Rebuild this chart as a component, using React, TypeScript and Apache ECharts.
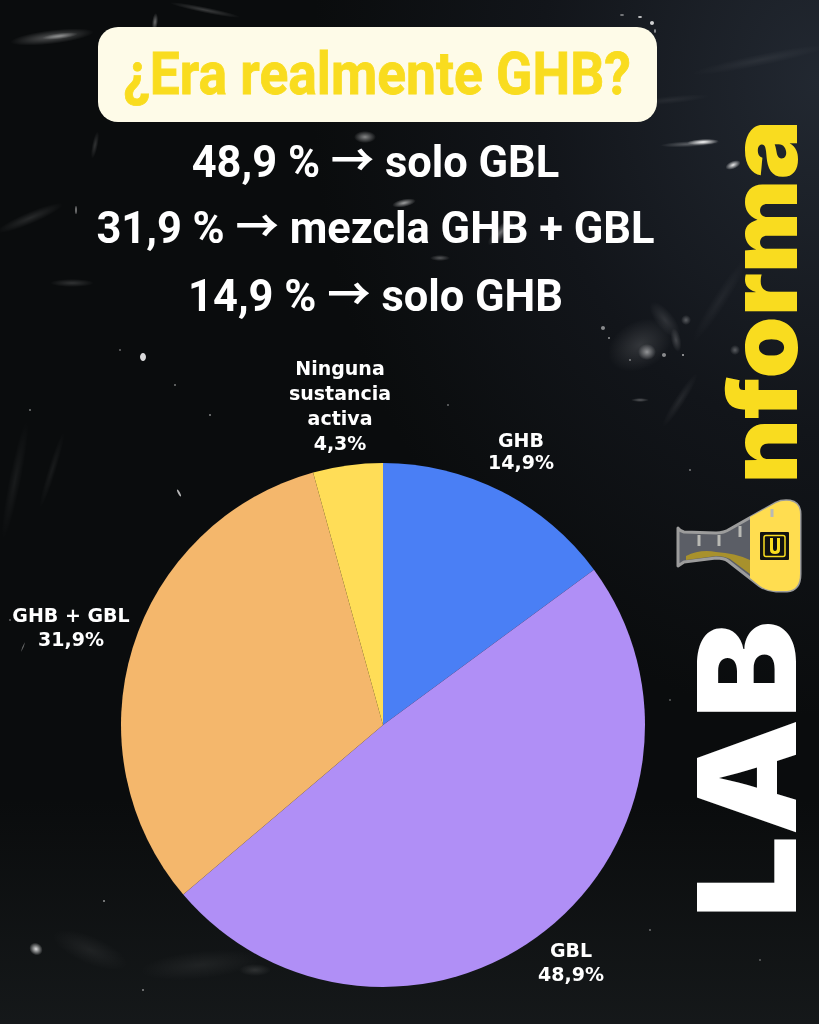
import React, { useEffect, useRef } from "react";
import * as echarts from "echarts";

const categories = ["GHB", "GBL", "GHB + GBL", "Ninguna\nsustancia\nactiva"];
const values = [14.9, 48.9, 31.9, 4.3];
const valueLabels = ["14,9%", "48,9%", "31,9%", "4,3%"];
const colors = ["#4a7ff5", "#b08ff6", "#f4b76c", "#ffdd57"];
const labelAnchors = [[521, 451], [571, 962], [71, 627], [340, 405]];
const labelLineHeights = [22, 24, 24, 25];
const headline = "¿Era realmente GHB?";
const statLines = ["48,9 % → solo GBL", "31,9 % → mezcla GHB + GBL", "14,9 % → solo GHB"];
const statY = [162, 228, 296];

const flaskBody = "M678 528 Q680 531 684 532 L716 533 Q724 533 730 529 L776 503 Q782 500 790 501 Q800 503 800 514 L800 574 Q800 590 787 591 L776 591 Q768 591 760 586 L728 561 Q724 558 716 558 L684 562 L678 566 Z";
const flaskYellow = "M750 517 L776 503 Q782 500 790 501 Q800 503 800 514 L800 574 Q800 590 787 591 L776 591 Q768 591 760 586 L750 578 Z";
const flaskLiquid = "M686 556 Q700 549 716 552 Q735 553 750 560 L750 574 L730 559 Q724 556 716 556 L686 560 Z";
const logoU = "M770 538 L773 538 L773 548 Q773 551 775 551 Q777 551 777 548 L777 538 L780 538 L780 550 Q780 554 775 554 Q770 554 770 550 Z";

echarts.graphic.registerShape("flaskBody", echarts.graphic.extendPath(flaskBody, {}));
echarts.graphic.registerShape("flaskYellow", echarts.graphic.extendPath(flaskYellow, {}));
echarts.graphic.registerShape("flaskLiquid", echarts.graphic.extendPath(flaskLiquid, {}));
echarts.graphic.registerShape("logoU", echarts.graphic.extendPath(logoU, {}));

const flaskTicks: number[][] = [[699, 535, 699, 546], [719, 535, 719, 546], [740, 526, 740, 537], [772, 509, 772, 517]];

// chalk marks: x, y, rx, ry, rotation, opacity
const smudges: number[][] = [
  [52, 37, 42, 7, 0.12, 0.3], [60, 36, 18, 3, 0.12, 0.4], [155, 22, 3, 9, -0.1, 0.4], [205, 10, 36, 3, -0.2, 0.2],
  [640, 17, 2, 1, 0, 0.7], [652, 23, 2, 2, 0, 0.8], [655, 31, 1, 2, 0, 0.5], [622, 15, 2, 1, 0, 0.4],
  [703, 142, 16, 3, 0.05, 1], [690, 144, 30, 3, 0.05, 0.3], [733, 165, 8, 4, 0.4, 0.9],
  [365, 137, 11, 6, 0, 0.5], [404, 203, 12, 4, 0.2, 0.6], [501, 232, 18, 6, 0.8, 0.4], [440, 258, 10, 3, 0, 0.3],
  [143, 357, 3, 4, 0, 0.85], [179, 493, 1, 4, 0.5, 0.7], [36, 949, 7, 6, -0.6, 0.85], [23, 647, 1, 6, -0.4, 0.45],
  [76, 210, 1, 4, 0, 0.4], [30, 218, 36, 6, 0.4, 0.12], [72, 283, 22, 4, 0, 0.16],
  [95, 145, 3, 14, -0.2, 0.16], [15, 480, 6, 60, -0.2, 0.06], [52, 470, 4, 40, -0.3, 0.06],
  [640, 345, 34, 24, 0.5, 0.14], [647, 352, 9, 8, 0, 0.5], [665, 320, 22, 9, -0.9, 0.12], [680, 400, 32, 5, 1.0, 0.08],
  [640, 400, 9, 2, 0, 0.3], [603, 328, 2, 2, 0, 0.5], [609, 338, 1, 1, 0, 0.5], [664, 355, 2, 2, 0, 0.5], [630, 360, 1, 1, 0, 0.4],
  [676, 340, 5, 12, 0.2, 0.2], [686, 320, 5, 5, 0, 0.3], [683, 355, 1, 1, 0, 0.6],
  [90, 950, 40, 14, -0.4, 0.06], [200, 965, 60, 14, 0.1, 0.06], [255, 970, 16, 6, 0, 0.12], [104, 901, 1, 1, 0, 0.5], [143, 990, 1, 1, 0, 0.45],
  [720, 300, 50, 7, 1.0, 0.05], [760, 60, 70, 6, 0.2, 0.06], [735, 350, 5, 5, 0, 0.3], [670, 100, 40, 4, 0.1, 0.06],
  [470, 48, 1, 1, 0, 0.5], [30, 410, 1, 1, 0, 0.4], [210, 415, 1, 1, 0, 0.45], [120, 350, 1, 1, 0, 0.35],
  [175, 385, 1, 1, 0, 0.4], [10, 620, 1, 1, 0, 0.35], [650, 930, 1, 1, 0, 0.35], [760, 960, 1, 1, 0, 0.3],
  [690, 470, 1, 1, 0, 0.4], [670, 700, 1, 1, 0, 0.3], [540, 310, 1, 1, 0, 0.35], [448, 405, 1, 1, 0, 0.35],
];

const softFill = (alpha: number) => ({
  type: "radial", x: 0.5, y: 0.5, r: 0.5,
  colorStops: [
    { offset: 0, color: `rgba(255,255,255,${alpha})` },
    { offset: 1, color: "rgba(255,255,255,0)" },
  ],
});

export default function App() {
  const ref = useRef<HTMLDivElement>(null);
  useEffect(() => {
    const chart = echarts.init(ref.current!, null, { renderer: "svg" });
    chart.setOption({
      animation: false,
      backgroundColor: {
        type: "radial", x: 1, y: 0.08, r: 0.62,
        colorStops: [{ offset: 0, color: "#222831" }, { offset: 0.55, color: "#12151a" }, { offset: 1, color: "#0a0c0d" }],
      },
      graphic: {
        elements: [
          { type: "rect", x: 0, y: 800, z: 0, silent: true, shape: { width: 819, height: 224 },
            style: { fill: { type: "linear", x: 0, y: 0, x2: 0, y2: 1, colorStops: [{ offset: 0, color: "rgba(30,34,36,0)" }, { offset: 1, color: "rgba(30,34,36,0.55)" }] } } },
          ...smudges.map((s) => ({
            type: "ellipse", silent: true, x: s[0], y: s[1], rotation: s[4],
            shape: { cx: 0, cy: 0, rx: s[2], ry: s[3] },
            style: s[2] > 3 || s[3] > 4
              ? { fill: softFill(s[5]) }
              : { fill: "#ffffff", opacity: s[5] },
            z: 0,
          })),
          { type: "rect", x: 98, y: 27, shape: { width: 559, height: 95, r: 20 }, style: { fill: "#fefbe8" }, z: 1 },
          { type: "text", x: 377, y: 73, scaleX: 0.89, z: 2,
            style: { text: headline, fill: "#f9dc1f", stroke: "#f9dc1f", lineWidth: 0.8, align: "center", verticalAlign: "middle", fontFamily: "Roboto", fontWeight: 700, fontSize: 60 } },
          ...statLines.map((t, i) => ({
            type: "text", x: 375.5, y: statY[i], scaleX: 0.965, z: 2,
            style: { text: t, fill: "#ffffff", align: "center", verticalAlign: "middle", fontFamily: "Roboto, 'Noto Sans CJK SC'", fontWeight: 700, fontSize: 45 },
          })),
          { type: "text", x: 814.5, y: 918.5, rotation: Math.PI / 2, scaleX: 1.08, z: 2,
            style: { text: "LAB", fill: "#ffffff", align: "left", verticalAlign: "bottom", fontFamily: "Inter", fontWeight: 900, fontSize: 136 } },
          { type: "text", x: 810, y: 483.5, rotation: Math.PI / 2, scaleX: 1.047, z: 2,
            style: { text: "nforma", fill: "#f9dc1f", align: "left", verticalAlign: "bottom", fontFamily: "Inter", fontWeight: 900, fontSize: 95 } },
          { type: "flaskBody", z: 2, style: { fill: "#5b5e66", stroke: "#9c9c9c", lineWidth: 3, lineJoin: "round" } },
          { type: "flaskYellow", z: 3, style: { fill: "#ffdd50" } },
          { type: "flaskLiquid", z: 3, style: { fill: "#a8912c" } },
          ...flaskTicks.map((t) => ({
            type: "line", z: 3, shape: { x1: t[0], y1: t[1], x2: t[2], y2: t[3] },
            style: { stroke: "#b9b9b4", lineWidth: 3 },
          })),
          { type: "rect", z: 4, x: 760, y: 532, shape: { width: 29, height: 28, r: 1 }, style: { fill: "#111111" } },
          { type: "rect", z: 5, x: 764, y: 535.5, shape: { width: 21, height: 21, r: 2 }, style: { fill: "#111111", stroke: "#f9dc1f", lineWidth: 1.5 } },
          { type: "logoU", z: 6, style: { fill: "#f9dc1f" } },
        ],
      },
      series: [
        {
          type: "pie",
          center: [383, 725],
          radius: [0, 262],
          startAngle: 90,
          clockwise: true,
          data: categories.map((name, i) => ({
            name, value: values[i], itemStyle: { color: colors[i] },
            label: { lineHeight: labelLineHeights[i] },
          })),
          label: {
            show: true,
            position: "outside",
            color: "#ffffff",
            fontFamily: "'DejaVu Sans'",
            fontWeight: 700,
            fontSize: 19,
            overflow: "none",
            align: "center",
            verticalAlign: "middle",
            formatter: (p: any) => `${p.name}\n${valueLabels[p.dataIndex]}`,
          },
          labelLine: { show: false },
          labelLayout: (p: any) => ({
            x: labelAnchors[p.dataIndex][0],
            y: labelAnchors[p.dataIndex][1],
            align: "center",
            verticalAlign: "middle",
          }),
          emphasis: { disabled: true },
        },
      ],
    });
    return () => chart.dispose();
  }, []);
  return <div ref={ref} style={{ position: "fixed", left: 0, top: 0, width: 819, height: 1024 }} />;
}
